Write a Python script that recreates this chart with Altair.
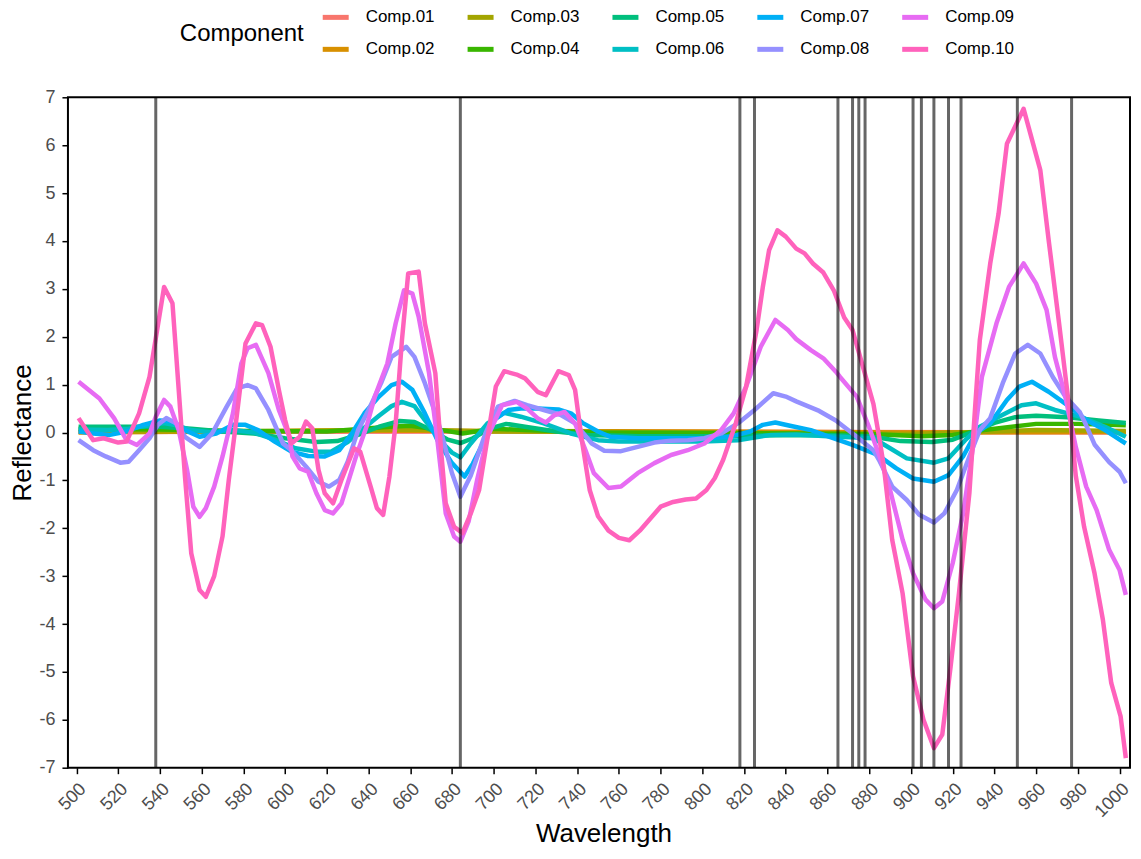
import altair as alt
import pandas as pd

# ---------------- data ----------------
components = ["Comp.01", "Comp.02", "Comp.03", "Comp.04", "Comp.05",
              "Comp.06", "Comp.07", "Comp.08", "Comp.09", "Comp.10"]
colors = ["#F8766D", "#D89000", "#A3A500", "#39B600", "#00BF7D",
          "#00BFC4", "#00B0F6", "#9590FF", "#E76BF3", "#FF62BC"]

c01_wl = [501, 600, 700, 850, 1003]
c01_v = [0.01, 0.015, 0.02, 0.01, 0.0]

c02_wl = [501, 560, 620, 700, 800, 900, 1003]
c02_v = [0.0, 0.02, 0.04, 0.03, 0.02, 0.0, 0.01]

c03_wl = [501, 600, 660, 700, 800, 900, 960, 1003]
c03_v = [0.02, 0.03, 0.06, 0.02, 0.0, -0.03, 0.05, 0.03]

c04_wl = [501, 540, 580, 620, 650, 660, 675, 685, 700, 715, 750, 850, 880,
          905, 920, 935, 960, 980, 1003]
c04_v = [0.08, 0.06, 0.03, 0.02, 0.12, 0.14, 0.05, -0.02, 0.08, 0.05, 0.0,
         -0.02, -0.03, -0.08, -0.05, 0.05, 0.18, 0.18, 0.15]

c05_wl = [501, 520, 540, 555, 570, 585, 600, 615, 625, 635, 645, 655, 662,
          670, 678, 684, 690, 698, 706, 715, 730, 745, 770, 810, 835, 860,
          880, 895, 910, 920, 930, 940, 950, 960, 975, 990, 1003]
c05_v = [0.12, 0.12, 0.12, 0.08, 0.02, -0.02, -0.12, -0.2, -0.18, -0.05,
         0.12, 0.24, 0.22, 0.05, -0.15, -0.22, -0.12, 0.08, 0.18, 0.12, 0.02,
         -0.05, -0.08, -0.08, -0.06, -0.06, -0.08, -0.18, -0.2, -0.15, 0.02,
         0.2, 0.32, 0.35, 0.32, 0.25, 0.2]

c06_wl = [501, 515, 525, 535, 542, 548, 555, 565, 575, 585, 595, 605, 615,
          622, 630, 638, 645, 651, 656, 662, 668, 675, 680, 684, 689, 697,
          705, 713, 724, 737, 750, 760, 800, 817, 833, 845, 860, 882, 890,
          898, 911, 918, 926, 933, 944, 953, 960, 969, 981, 993, 1003]
c06_v = [0.06, 0.05, 0.08, 0.15, 0.2, 0.15, 0.05, 0.0, 0.05, 0.0, -0.15,
         -0.33, -0.4, -0.4, -0.2, 0.1, 0.35, 0.55, 0.64, 0.55, 0.2, -0.2,
         -0.42, -0.52, -0.23, 0.19, 0.41, 0.33, 0.19, -0.02, -0.16, -0.19,
         -0.19, -0.16, -0.05, -0.04, -0.08, -0.12, -0.33, -0.54, -0.63, -0.54,
         -0.16, 0.12, 0.37, 0.57, 0.61, 0.47, 0.33, 0.12, -0.09]

c07_wl = [501, 508, 516, 524, 532, 540, 546, 552, 559, 567, 575, 581, 587,
          595, 603, 611, 619, 626, 632, 638, 645, 651, 656, 661, 667, 673,
          680, 686, 690, 694, 700, 707, 713, 721, 731, 737, 743, 750, 756,
          769, 785, 801, 813, 823, 829, 835, 842, 852, 861, 872, 882, 885,
          893, 901, 911, 918, 925, 931, 938, 946, 952, 958, 966, 976, 984,
          993, 1003]
c07_v = [0.02, -0.02, -0.05, 0.02, 0.16, 0.25, 0.23, 0.05, -0.09, -0.02,
         0.16, 0.16, 0.05, -0.19, -0.4, -0.49, -0.5, -0.37, -0.02, 0.4, 0.75,
         0.99, 1.06, 0.89, 0.4, -0.16, -0.64, -0.92, -0.65, -0.3, 0.26, 0.47,
         0.5, 0.5, 0.48, 0.4, 0.19, 0.02, -0.09, -0.12, -0.12, -0.12, -0.09,
         0.02, 0.16, 0.21, 0.14, 0.05, -0.09, -0.26, -0.43, -0.5, -0.75,
         -0.96, -1.03, -0.89, -0.5, -0.02, 0.19, 0.68, 0.96, 1.06, 0.85, 0.54,
         0.26, 0.05, -0.23]

c08_wl = [501, 508, 514, 521, 525, 530, 535, 539, 543, 548, 552, 559, 565,
          572, 577, 582, 586, 592, 599, 603, 610, 616, 621, 626, 630, 635,
          640, 646, 651, 658, 662, 667, 672, 675, 680, 684, 689, 696, 702,
          710, 716, 724, 732, 739, 747, 753, 761, 769, 777, 785, 793, 801,
          809, 817, 825, 834, 840, 845, 856, 864, 874, 882, 885, 891, 898,
          904, 911, 916, 922, 928, 933, 938, 944, 950, 956, 962, 968, 974,
          981, 984, 988, 995, 1000, 1003]
c08_v = [-0.16, -0.37, -0.5, -0.63, -0.61, -0.37, -0.12, 0.16, 0.3, 0.19,
         -0.09, -0.3, -0.02, 0.54, 0.92, 0.99, 0.92, 0.47, -0.23, -0.37,
         -0.71, -1.03, -1.13, -0.99, -0.61, 0.05, 0.47, 1.03, 1.58, 1.79,
         1.58, 1.03, 0.4, -0.02, -0.85, -1.34, -0.9, -0.02, 0.54, 0.66, 0.57,
         0.47, 0.37, 0.19, -0.23, -0.38, -0.39, -0.3, -0.21, -0.17, -0.16,
         -0.12, -0.02, 0.19, 0.47, 0.82, 0.75, 0.65, 0.45, 0.25, -0.09, -0.37,
         -0.6, -1.13, -1.41, -1.72, -1.88, -1.69, -1.2, -0.5, 0.05, 0.3, 1.03,
         1.65, 1.83, 1.65, 1.16, 0.75, 0.42, 0.15, -0.25, -0.62, -0.82, -1.06]

c09_wl = [501, 511, 518, 524, 529, 535, 538, 542, 545, 549, 553, 556, 559,
          562, 566, 570, 575, 579, 582, 586, 592, 597, 602, 603.5, 607, 611,
          615, 619, 623, 627, 631, 634, 639, 643, 649, 653, 657, 661, 664,
          669, 673, 677, 681, 684, 688, 692, 697, 704, 711, 716, 721, 725,
          729, 734, 739, 744, 748, 755, 761, 769, 777, 785, 793, 801, 809,
          815, 821, 828, 835, 841, 845, 852, 858, 864, 866, 874, 880, 885,
          890, 896, 901, 907, 911, 915, 920, 925, 930, 934, 941, 947, 954,
          960, 965, 969, 974, 977, 979, 984, 989, 995, 1000, 1003]
c09_v = [1.06, 0.71, 0.3, -0.16, -0.26, -0.02, 0.33, 0.68, 0.54, 0.05,
         -0.78, -1.55, -1.76, -1.58, -1.13, -0.5, 0.4, 1.44, 1.76, 1.83, 1.24,
         0.47, -0.09, -0.5, -0.75, -0.82, -1.27, -1.62, -1.69, -1.48, -0.92,
         -0.5, 0.12, 0.75, 1.44, 2.28, 2.97, 2.9, 2.42, 1.24, -0.16, -1.69,
         -2.17, -2.28, -1.85, -1.0, -0.09, 0.57, 0.64, 0.5, 0.3, 0.21, 0.36,
         0.43, 0.19, -0.37, -0.85, -1.16, -1.13, -0.85, -0.64, -0.47, -0.37,
         -0.23, 0.05, 0.4, 0.96, 1.79, 2.35, 2.14, 1.95, 1.72, 1.55, 1.27,
         1.16, 0.75, 0.1, -0.5, -1.2, -2.24, -2.94, -3.49, -3.67, -3.53,
         -2.73, -1.69, -0.23, 1.16, 2.28, 3.04, 3.53, 3.11, 2.56, 1.58, 0.75,
         0.12, -0.3, -1.13, -1.62, -2.45, -2.87, -3.39]

c10_wl = [501, 508, 513, 520, 524, 530, 535, 542, 546, 552, 555, 559, 562,
          566, 570, 573, 576, 581, 586, 589, 593, 597, 600, 603, 607, 610,
          613, 616, 619, 623, 627, 633, 636, 641, 644, 647, 650, 653, 656,
          659, 664, 667, 672, 675, 677, 681, 685, 689, 693, 701, 705, 711,
          715, 721, 725, 731, 736, 739, 742, 746, 750, 755, 760, 765, 770,
          775, 780, 786, 792, 797, 802, 806, 810, 816, 821, 826, 829, 832,
          836, 840, 845, 849, 853, 858, 863, 868, 872, 877, 882, 885, 887,
          891, 896, 901, 906, 911, 915, 919, 923, 928, 931, 933, 938, 942,
          946, 954, 962, 966, 971, 976, 979, 983, 988, 992, 996, 1000.5,
          1003]
c10_v = [0.3, -0.16, -0.12, -0.21, -0.19, 0.4, 1.16, 3.04, 2.7, -0.92,
         -2.52, -3.29, -3.43, -3.0, -2.17, -0.99, 0.05, 1.86, 2.28, 2.24,
         1.79, 0.89, 0.26, -0.23, -0.09, 0.23, 0.09, -0.78, -1.27, -1.48,
         -0.99, -0.33, -0.4, -1.13, -1.58, -1.72, -0.92, 0.19, 1.93, 3.32,
         3.36, 2.28, 1.24, -0.5, -1.48, -1.97, -2.1, -1.69, -1.2, 0.96, 1.28,
         1.21, 1.13, 0.85, 0.78, 1.28, 1.2, 0.89, -0.09, -1.2, -1.75, -2.05,
         -2.2, -2.25, -2.05, -1.8, -1.55, -1.45, -1.4, -1.38, -1.2, -0.95,
         -0.57, 0.19, 0.96, 2.14, 3.04, 3.81, 4.22, 4.09, 3.84, 3.74, 3.53,
         3.34, 2.97, 2.4, 2.14, 1.37, 0.6, -0.16, -0.71, -2.24, -3.36, -5.09,
         -6.0, -6.59, -6.31, -4.89, -3.36, -1.27, 0.68, 1.93, 3.53, 4.57,
         6.03, 6.76, 5.48, 4.02, 2.28, 0.47, -0.9, -1.97, -2.94, -3.91, -5.23,
         -5.93, -6.8]

selected_wl = [538, 684, 818, 825, 865, 872, 875, 878, 901, 905, 911, 918,
               924, 951, 977]

x_ticks = list(range(500, 1001, 20))
y_ticks = list(range(-7, 8))

# ---------------- build tables ----------------
series_wl = [c01_wl, c02_wl, c03_wl, c04_wl, c05_wl, c06_wl, c07_wl, c08_wl,
             c09_wl, c10_wl]
series_v = [c01_v, c02_v, c03_v, c04_v, c05_v, c06_v, c07_v, c08_v, c09_v,
            c10_v]
rows = []
for name, wls, vals in zip(components, series_wl, series_v):
    for w, v in zip(wls, vals):
        rows.append({"Wavelength": w, "Reflectance": v, "Component": name})
df = pd.DataFrame(rows)
df_sel = pd.DataFrame({"Wavelength": selected_wl})

# legend filled column-wise like ggplot (two rows)
legend_order = components[0::2] + components[1::2]
legend_colors = colors[0::2] + colors[1::2]

FONT = "Liberation Sans"
W, H = 1063, 671

x_scale = alt.Scale(domain=[495.9, 1005], nice=False, zero=False)
y_scale = alt.Scale(domain=[-7, 7], nice=False, zero=False)

lines = alt.Chart(df).mark_line(strokeWidth=4.5, strokeJoin="round").encode(
    x=alt.X("Wavelength:Q", scale=x_scale,
            axis=alt.Axis(values=x_ticks, format="d", title="Wavelength",
                          labelAngle=315, labelAlign="right",
                          labelBaseline="top", labelPadding=6,
                          titleX=536, titleY=74, titleBaseline="alphabetic",
                          titleAlign="center")),
    y=alt.Y("Reflectance:Q", scale=y_scale,
            axis=alt.Axis(values=y_ticks, title="Reflectance",
                          labelExpr="toString(datum.value)",
                          labelPadding=7, titleX=-45, titleY=H / 2,
                          titleAngle=270, titleBaseline="middle",
                          titleAlign="center")),
    color=alt.Color("Component:N",
                    scale=alt.Scale(domain=legend_order, range=legend_colors),
                    legend=alt.Legend(orient="none", legendX=112, legendY=-89,
                                      direction="horizontal", columns=5,
                                      title="Component", titleOrient="left",
                                      titleAnchor="middle",
                                      titleBaseline="middle",
                                      titleFontSize=24, titleFontWeight="normal",
                                      titleColor="black", titlePadding=22,
                                      labelFontSize=17, labelColor="black",
                                      symbolType="M-2,0L2,0",
                                      symbolSize=169,
                                      symbolStrokeWidth=5, labelOffset=21,
                                      columnPadding=23, rowPadding=12,
                                      padding=0)),
    order=alt.Order("Wavelength:Q"),
)

rules = alt.Chart(df_sel).mark_rule(color="black", opacity=0.6,
                                    strokeWidth=3).encode(
    x=alt.X("Wavelength:Q", scale=x_scale)
)

chart = alt.layer(lines, rules).properties(
    width=W, height=H,
    padding={"left": 2, "top": 0, "right": 0, "bottom": 0}
).configure(font=FONT).configure_view(
    stroke="black", strokeWidth=2
).configure_axis(
    domain=False, grid=False, ticks=True, tickSize=6, tickColor="black",
    tickWidth=1.5, labelFont=FONT, labelFontSize=18, labelColor="#4D4D4D",
    titleFont=FONT, titleFontSize=26, titleFontWeight="normal",
    titleColor="black", labelFlush=False, labelOverlap=False
)

chart.save("out.html", embed_options={"renderer": "svg", "actions": False})
